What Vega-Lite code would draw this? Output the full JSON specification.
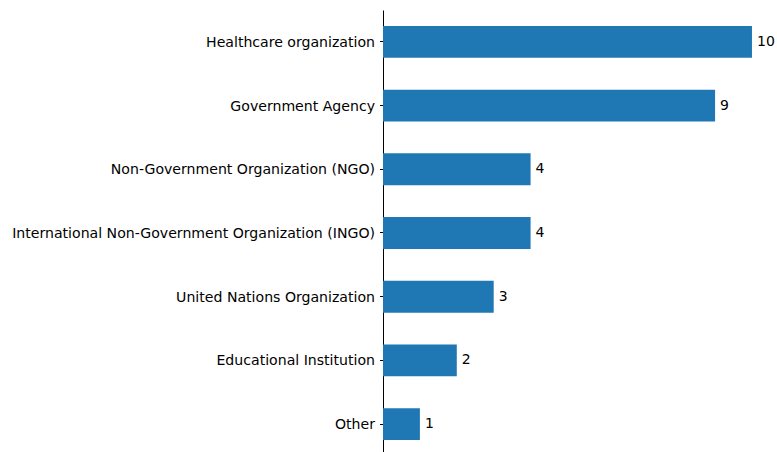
{
  "$schema": "https://vega.github.io/schema/vega-lite/v6.json",
  "autosize": {"type": "none"},
  "width": 390,
  "height": 446,
  "padding": {"left": 383, "top": 10, "right": 4, "bottom": 0},
  "config": {"view": {"stroke": null}, "font": "DejaVu Sans"},
  "data": {"values": [
    {"category": "Healthcare organization", "count": 10},
    {"category": "Government Agency", "count": 9},
    {"category": "Non-Government Organization (NGO)", "count": 4},
    {"category": "International Non-Government Organization (INGO)", "count": 4},
    {"category": "United Nations Organization", "count": 3},
    {"category": "Educational Institution", "count": 2},
    {"category": "Other", "count": 1}
  ]},
  "encoding": {
    "y": {"field": "category", "type": "nominal", "sort": null,
      "scale": {"paddingInner": 0.5, "paddingOuter": 0.25},
      "axis": {"title": null, "domainColor": "#000000", "domainWidth": 1, "tickColor": "#000000", "tickSize": 3.5, "labelFontSize": 14.1, "labelColor": "#000000", "labelPadding": 5, "labelFont": "DejaVu Sans", "labelLimit": 500, "labelBaseline": "middle", "labelOffset": 1}},
    "x": {"field": "count", "type": "quantitative", "scale": {"domain": [0, 10.57]}, "axis": null}
  },
  "layer": [
    {"mark": {"type": "bar", "color": "#1f77b4"}},
    {"mark": {"type": "text", "align": "left", "dx": 5, "fontSize": 14, "color": "#000000", "font": "DejaVu Sans"},
     "encoding": {"text": {"field": "count", "type": "quantitative"}}}
  ]
}
